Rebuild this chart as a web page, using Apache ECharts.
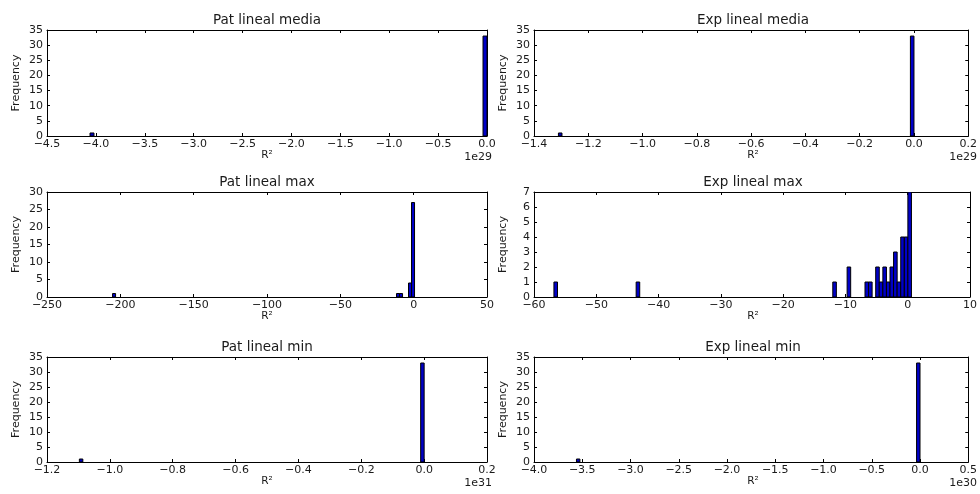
<!DOCTYPE html>
<html><head><meta charset="utf-8">
<script src="https://cdn.jsdelivr.net/npm/echarts@6/dist/echarts.min.js"></script>
<style>html,body{margin:0;padding:0;background:#fff}#c{width:980px;height:494px}</style>
</head><body><div id="c"></div>
<script>
// ---- data (x in the axis' scaled units) ----
var titles = ['Pat lineal media', 'Exp lineal media', 'Pat lineal max', 'Exp lineal max', 'Pat lineal min', 'Exp lineal min'];
var scaleLabels = ['1e29', '1e29', '', '', '1e31', '1e30'];

var patMediaBinWidth = 0.0406;
var patMediaBinLefts = [-4.06, -0.0406];
var patMediaCounts = [1, 33];

var expMediaBinWidth = 0.0131;
var expMediaBinLefts = [-1.31, -0.0131];
var expMediaCounts = [1, 33];

var patMaxBinWidth = 2.06;
var patMaxBinLefts = [-205.3, -11.7, -9.64, -3.52, -1.46];
var patMaxCounts = [1, 1, 1, 4, 27];

var expMaxBinWidth = 0.574;
var expMaxBinLefts = [-56.8, -43.6, -12.03, -9.73, -6.86, -6.29, -5.14, -4.57, -3.99, -3.42, -2.84, -2.27, -1.70, -1.12, -0.55, 0.026];
var expMaxCounts = [1, 1, 1, 2, 1, 1, 2, 1, 2, 1, 2, 3, 1, 4, 4, 7];

var patMinBinWidth = 0.011;
var patMinBinLefts = [-1.097, -0.011];
var patMinCounts = [1, 33];

var expMinBinWidth = 0.0356;
var expMinBinLefts = [-3.56, -0.0356];
var expMinCounts = [1, 33];

// axis ranges / tick steps
var xMins = [-4.5, -1.4, -250, -60, -1.2, -4.0];
var xMaxs = [0.0, 0.2, 50, 10, 0.2, 0.5];
var xSteps = [0.5, 0.2, 50, 10, 0.2, 0.5];
var xDecimals = [1, 1, 0, 0, 1, 1];
var yMaxs = [35, 35, 30, 7, 35, 35];
var ySteps = [5, 5, 5, 1, 5, 5];

var binWidths = [patMediaBinWidth, expMediaBinWidth, patMaxBinWidth, expMaxBinWidth, patMinBinWidth, expMinBinWidth];
var binLefts = [patMediaBinLefts, expMediaBinLefts, patMaxBinLefts, expMaxBinLefts, patMinBinLefts, expMinBinLefts];
var binCounts = [patMediaCounts, expMediaCounts, patMaxCounts, expMaxCounts, patMinCounts, expMinCounts];

// ---- layout ----
var colLeft = [47, 534], colRight = [487, 972];
var rowTop = [30, 192, 357], rowBottom = [136, 297, 462];
var FONT = 'DejaVu Sans';
var TXT = '#1a1a1a';
var SMALL = 11;

function fmt(dec) {
  return function (v) {
    var s = Number(v).toFixed(dec);
    if (Math.abs(v) < 1e-9) s = (0).toFixed(dec);
    return s.replace('-', '\u2212');
  };
}

function renderItem(params, api) {
  var p0 = api.coord([api.value(0), 0]);
  var p1 = api.coord([api.value(1), api.value(2)]);
  return {
    type: 'rect',
    shape: { x: p0[0], y: p1[1], width: Math.max(p1[0] - p0[0], 1), height: p0[1] - p1[1] },
    style: { fill: '#0000c8', stroke: '#000', lineWidth: 1 }
  };
}

var grids = [], xAxes = [], yAxes = [], series = [], graphics = [];
for (var i = 0; i < 6; i++) {
  var r = Math.floor(i / 2), c = i % 2;
  var L = colLeft[c], R = colRight[c], T = rowTop[r], B = rowBottom[r];
  grids.push({ left: L, top: T, width: R - L, height: B - T, containLabel: false });
  var axLine = { show: true, onZero: false, lineStyle: { color: '#000', width: 1 } };
  var base = { type: 'value', gridIndex: i, min: xMins[i], max: xMaxs[i], interval: xSteps[i], splitLine: { show: false } };
  xAxes.push(Object.assign({}, base, {
    position: 'bottom', axisLine: axLine,
    axisTick: { show: true, inside: true, length: 3, lineStyle: { color: '#000' } },
    axisLabel: { show: true, margin: 3, fontFamily: FONT, fontSize: SMALL, color: TXT, formatter: fmt(xDecimals[i]), showMinLabel: true, showMaxLabel: true }
  }));
  xAxes.push(Object.assign({}, base, {
    position: 'top', axisLine: axLine,
    axisTick: { show: true, inside: true, length: 3, lineStyle: { color: '#000' } },
    axisLabel: { show: false }
  }));
  var ybase = { type: 'value', gridIndex: i, min: 0, max: yMaxs[i], interval: ySteps[i], splitLine: { show: false } };
  yAxes.push(Object.assign({}, ybase, {
    position: 'left', axisLine: axLine,
    axisTick: { show: true, inside: true, length: 3, lineStyle: { color: '#000' } },
    axisLabel: { show: true, margin: 4, fontFamily: FONT, fontSize: SMALL, color: TXT }
  }));
  yAxes.push(Object.assign({}, ybase, {
    position: 'right', axisLine: axLine,
    axisTick: { show: true, inside: true, length: 3, lineStyle: { color: '#000' } },
    axisLabel: { show: false }
  }));
  var data = [];
  for (var k = 0; k < binLefts[i].length; k++) {
    data.push([binLefts[i][k], binLefts[i][k] + binWidths[i], binCounts[i][k]]);
  }
  series.push({
    type: 'custom', xAxisIndex: 2 * i, yAxisIndex: 2 * i, renderItem: renderItem,
    encode: { x: [0, 1], y: 2 }, data: data, clip: true, silent: true, animation: false
  });
  var cx = (L + R) / 2;
  graphics.push({ type: 'text', x: cx, y: T - 10, style: { text: titles[i], fontFamily: FONT, fontSize: 13.5, fill: TXT, align: 'center', verticalAlign: 'middle' } });
  graphics.push({ type: 'text', x: cx, y: B + 19, style: { text: 'R\u00b2', fontFamily: FONT, fontSize: 10.5, fill: TXT, align: 'center', verticalAlign: 'middle' } });
  graphics.push({ type: 'text', x: L - 31, y: (T + B) / 2, rotation: Math.PI / 2, style: { text: 'Frequency', fontFamily: FONT, fontSize: SMALL, fill: TXT, align: 'center', verticalAlign: 'middle' } });
  if (scaleLabels[i]) {
    graphics.push({ type: 'text', x: R + 5, y: B + 21, style: { text: scaleLabels[i], fontFamily: FONT, fontSize: SMALL, fill: TXT, align: 'right', verticalAlign: 'middle' } });
  }
}

var chart = echarts.init(document.getElementById('c'), null, { renderer: 'canvas' });
chart.setOption({
  animation: false,
  backgroundColor: '#fff',
  grid: grids, xAxis: xAxes, yAxis: yAxes, series: series, graphic: graphics
});
</script>
</body></html>
